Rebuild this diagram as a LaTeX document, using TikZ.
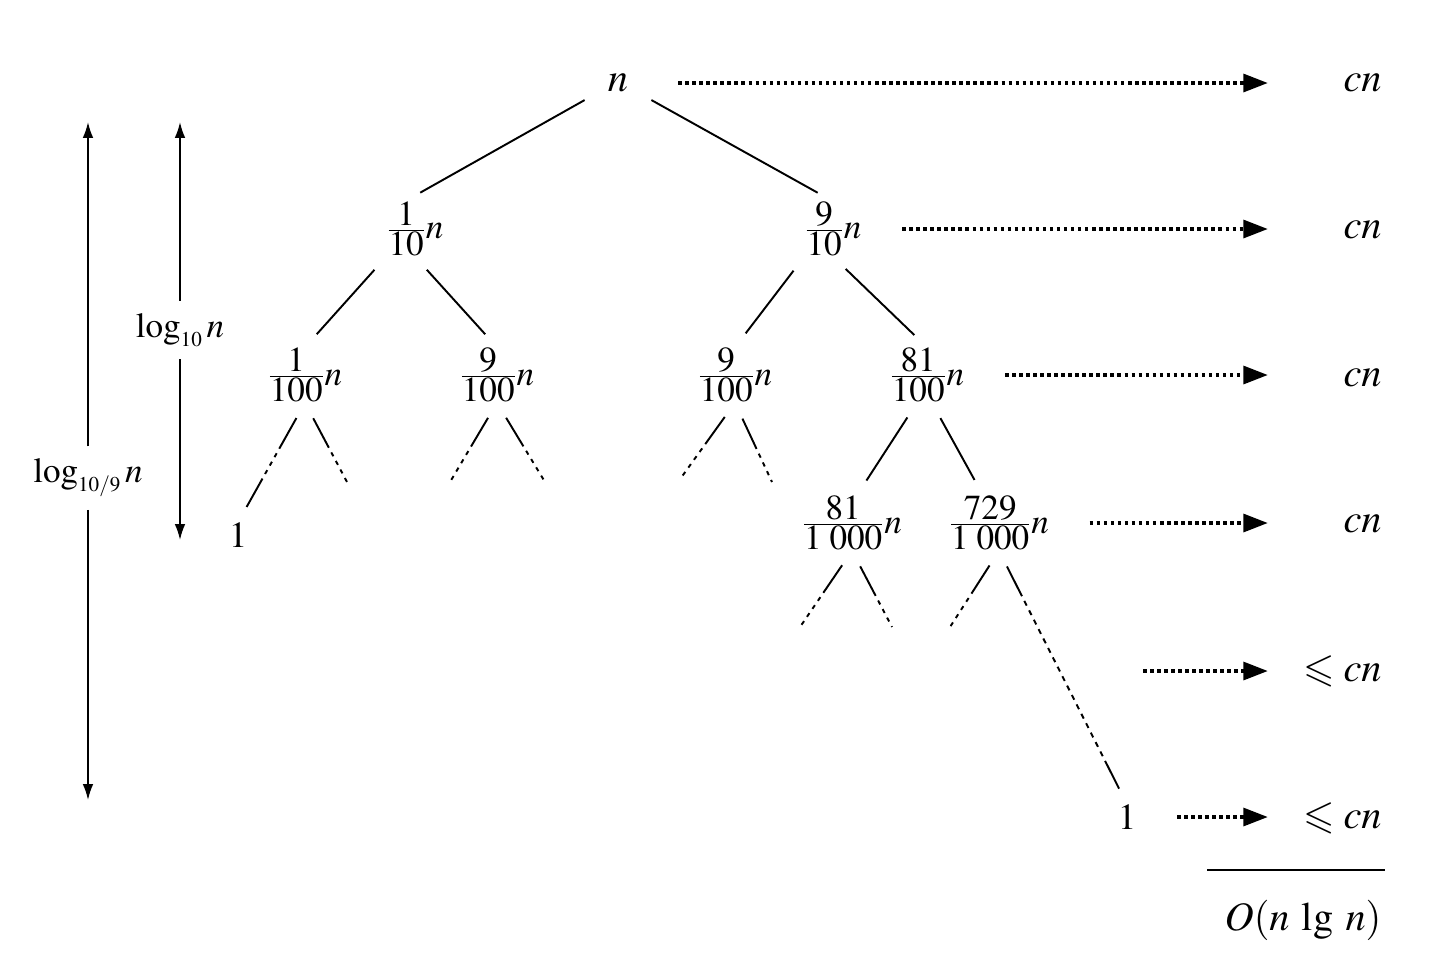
\documentclass[tikz,border=0pt]{standalone}
\usepackage{amsmath,amssymb}
\usepackage{mathptmx}
\usepackage{tikz}
\usetikzlibrary{arrows.meta}
\newcommand{\partfrac}[2]{\frac{\textstyle #1}{\textstyle #2}}
\tikzstyle{every node}=[inner sep=0pt,font=\fontsize{23}{27}\selectfont]
\tikzstyle{part}=[font=\fontsize{20}{24}\selectfont]
\tikzstyle{loglabel}=[font=\fontsize{20}{24}\selectfont]
\tikzstyle{branch}=[line width=1.1pt,shorten <=10pt,shorten >=10pt]
\tikzstyle{stub}=[line width=1.1pt,shorten <=10pt,
    dash pattern=on 19pt off 3pt on 2.5pt off 3pt on 2.5pt off 3pt on 2.5pt off 3pt on 2.5pt off 40pt]
\tikzstyle{cost}=[line width=2.4pt,dash pattern=on 2pt off 2pt,
    -{Triangle[length=14pt,width=10pt]},shorten <=23pt]
\tikzstyle{levelarrow}=[line width=1pt,-{Latex[length=9pt,width=6pt]},shorten <=7pt]

\begin{document}
\begin{tikzpicture}[x=0.02cm,y=-0.02cm]
    \useasboundingbox (0,0) rectangle (1432,968);
    % the recursion tree
    \node (n0) [minimum width=1.2cm,minimum height=0.6cm] at (618,83) {$n$};
    \node (a) [part] at (415,229) {$\partfrac{1}{10}n$};
    \node (b) [part] at (833,229) {$\partfrac{9}{10}n$};
    \node (c) [part] at (305,375) {$\partfrac{1}{100}n$};
    \node (d) [part] at (497,375) {$\partfrac{9}{100}n$};
    \node (e) [part] at (735,375) {$\partfrac{9}{100}n$};
    \node (f) [part] at (927,375) {$\partfrac{81}{100}n$};
    \node (g) [part] at (852,523) {$\partfrac{81}{1\;000}n$};
    \node (h) [part] at (999,523) {$\partfrac{729}{1\;000}n$};
    \node (one1) [part,font=\fontsize{21}{24}\selectfont] at (238,535) {$1$};
    \node (one2) [part,font=\fontsize{21}{24}\selectfont] at (1127,817) {$1$};
    \draw[branch,shorten <=2pt] (n0.south west) -- (a.110);
    \draw[branch,shorten <=2pt] (n0.south east) -- (b.north);
    \draw[branch] (a.south west) -- (c.north);
    \draw[branch] (a.south) -- (d.north);
    \draw[branch] (b.south west) -- (e.north);
    \draw[branch] (b.south) -- (f.north);
    \draw[branch] (f.250) -- (g.80);
    \draw[branch] (f.280) -- (h.120);
    % subtrees that are left out
    \coordinate (c2) at (347,482);
    \coordinate (d1) at (450,482);
    \coordinate (d2) at (545,482);
    \coordinate (e1) at (678,482);
    \coordinate (e2) at (772,482);
    \coordinate (g1) at (800,627);
    \coordinate (g2) at (892,627);
    \coordinate (h1) at (950,627);
    \draw[stub,shorten >=10pt,
        dash pattern=on 20pt off 3pt on 2.5pt off 3pt on 2.5pt off 3pt on 2.5pt off 3pt on 20pt]
        (c.south) -- (one1.north);
    \draw[stub] (c.south) -- (c2);
    \draw[stub] (d.south) -- (d1);
    \draw[stub] (d.south) -- (d2);
    \draw[stub] (e.south) -- (e1);
    \draw[stub] (e.south) -- (e2);
    \draw[stub] (g.south) -- (g1);
    \draw[stub] (g.south) -- (g2);
    \draw[stub] (h.south) -- (h1);
    \draw[stub,shorten >=10pt,
        dash pattern=on 19pt off 3pt on 3pt off 3pt on 3pt off 3pt on 3pt off 3pt on 3pt
        off 3pt on 3pt off 3pt on 3pt off 3pt on 3pt off 3pt on 3pt off 3pt on 3pt
        off 3pt on 3pt off 3pt on 3pt off 3pt on 3pt off 3pt on 3pt off 3pt on 3pt
        off 3pt on 3pt off 3pt on 3pt off 3pt on 3pt off 3pt on 20pt]
        (h.south) -- (one2.north);
    % cost of each level
    \coordinate (tip) at (1268,0);
    \coordinate (dots) at (1143,671);
    \node (c0) [anchor=east] at (1382,83) {$cn$};
    \node (c1) [anchor=east] at (1382,230) {$cn$};
    \node (c2) [anchor=east] at (1382,378) {$cn$};
    \node (c3) [anchor=east] at (1382,524) {$cn$};
    \node (c4) [anchor=east] at (1382,671) {$\leqslant cn$};
    \node (c5) [anchor=east] at (1382,818) {$\leqslant cn$};
    \draw[cost,shorten <=17pt] (n0.east) -- (n0.east -| tip);
    \draw[cost] (b.east) -- (b.east -| tip);
    \draw[cost] (f.east) -- (f.east -| tip);
    \draw[cost] (h.east) -- (h.east -| tip);
    \draw[cost,shorten <=0pt] (dots) -- (dots -| tip);
    \draw[cost] (one2.east) -- (one2.east -| tip);
    \draw[line width=1pt] (1207,870) -- (1385,870);
    \node (total) at (1303,920) {$O(n\ \mathrm{lg}\ n)$};
    % heights
    \node (lg9) [loglabel] at (88,478) {$\log_{\scriptscriptstyle 10/9}n$};
    \node (lg10) [loglabel] at (180,330) {$\log_{\scriptscriptstyle 10}n$};
    \coordinate (top9) at (88,122);
    \coordinate (bot9) at (88,800);
    \coordinate (top10) at (180,122);
    \coordinate (bot10) at (180,540);
    \draw[levelarrow] (lg9.north) -- (top9);
    \draw[levelarrow] (lg9.south) -- (bot9);
    \draw[levelarrow] (lg10.north) -- (top10);
    \draw[levelarrow] (lg10.south) -- (bot10);
\end{tikzpicture}
\end{document}
